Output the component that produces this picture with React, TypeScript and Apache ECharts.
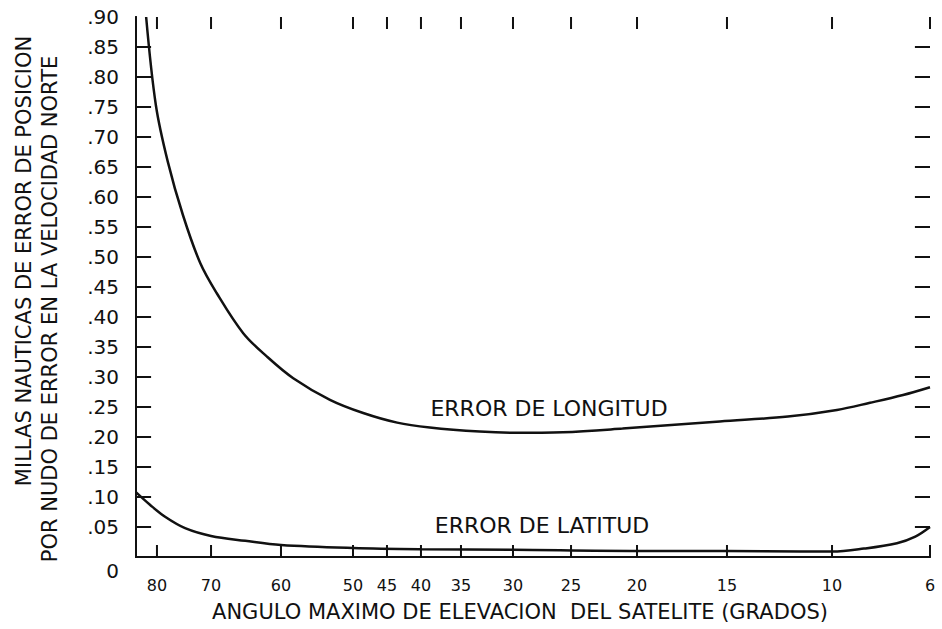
import React, { useEffect, useRef } from "react";
import * as echarts from "echarts";

// X axis: non-uniform scale of maximum elevation angle (degrees)
const xTickAngles = [80, 70, 60, 50, 45, 40, 35, 30, 25, 20, 15, 10, 6];
// position of each tick along the axis (axis units, 0..100)
const xTickUnits = [2.64, 9.45, 18.26, 27.33, 31.61, 35.89, 40.93, 47.48, 54.79, 63.1, 74.43, 87.66, 100];

// Y axis ticks
const yMin = 0;
const yMax = 0.9;
const yStep = 0.05;
const yTickValues = [0.05, 0.1, 0.15, 0.2, 0.25, 0.3, 0.35, 0.4, 0.45, 0.5, 0.55, 0.6, 0.65, 0.7, 0.75, 0.8, 0.85];

// ERROR DE LONGITUD
const longAngles = [82.0, 80.2, 78.0, 75.2, 72.0, 69.2, 65.4, 62.0, 58.3, 53.2, 48.5, 43.5, 38.9, 33.2, 30, 25.7, 21.1, 15.4, 12.1, 9.8, 8.45, 7.1, 6];
const longValues = [0.9, 0.753, 0.659, 0.57, 0.49, 0.44, 0.373, 0.334, 0.298, 0.262, 0.24, 0.224, 0.216, 0.209, 0.207, 0.208, 0.214, 0.226, 0.234, 0.245, 0.257, 0.27, 0.283];

// ERROR DE LATITUD
const latAngles = [83.9, 81.3, 78.5, 74.8, 70, 65.1, 60, 50, 40, 30, 20, 15, 11.5, 10, 8.7, 7.35, 6.6, 6];
const latValues = [0.108, 0.087, 0.067, 0.048, 0.035, 0.027, 0.02, 0.015, 0.013, 0.012, 0.01, 0.01, 0.009, 0.009, 0.014, 0.023, 0.034, 0.05];

const FONT = "DejaVu Sans";
const INK = "#111111";
// tick lengths expressed in axis units (12px vertical, 15px horizontal)
const X_TICK_LEN = 0.02;
const Y_TICK_LEN = 1.9;

function angleToUnit(a: number): number {
  const n = xTickAngles.length;
  if (a >= xTickAngles[0]) {
    const k = (xTickUnits[1] - xTickUnits[0]) / (xTickAngles[0] - xTickAngles[1]);
    return xTickUnits[0] - (a - xTickAngles[0]) * k;
  }
  for (let i = 0; i < n - 1; i++) {
    const a0 = xTickAngles[i];
    const a1 = xTickAngles[i + 1];
    if (a <= a0 && a >= a1) {
      const t = (a0 - a) / (a0 - a1);
      return xTickUnits[i] + t * (xTickUnits[i + 1] - xTickUnits[i]);
    }
  }
  return xTickUnits[n - 1];
}

function unitToLabel(v: number): string {
  for (let i = 0; i < xTickUnits.length; i++) {
    if (Math.abs(xTickUnits[i] - v) < 1e-6) return String(xTickAngles[i]);
  }
  return "";
}

export default function App() {
  const ref = useRef<HTMLDivElement>(null);

  useEffect(() => {
    if (!ref.current) return;
    const chart = echarts.init(ref.current, undefined, { renderer: "svg" });

    const longData = longAngles.map((a, i) => [angleToUnit(a), longValues[i]]);
    const latData = latAngles.map((a, i) => [angleToUnit(a), latValues[i]]);

    // tick marks as broken line segments on all four sides of the frame
    const tickSegs: any[] = [];
    xTickUnits.forEach((u) => {
      tickSegs.push([u, yMin], [u, yMin + X_TICK_LEN], [u, "-"]);
      tickSegs.push([u, yMax], [u, yMax - X_TICK_LEN], [u, "-"]);
    });
    yTickValues.forEach((v) => {
      tickSegs.push([0, v], [Y_TICK_LEN, v], ["-", v]);
      tickSegs.push([100, v], [100 - Y_TICK_LEN, v], ["-", v]);
    });

    chart.setOption({
      animation: false,
      grid: { left: 136, right: 12, top: 17, bottom: 72 },
      xAxis: [
        {
          type: "value",
          position: "bottom",
          min: 0,
          max: 100,
          axisLine: { show: true, lineStyle: { color: INK, width: 2 } },
          axisTick: { show: false },
          axisLabel: {
            show: true,
            customValues: xTickUnits,
            formatter: (v: number) => unitToLabel(v),
            fontFamily: FONT,
            fontSize: 16,
            color: INK,
            margin: 20,
          },
          splitLine: { show: false },
          name: "ANGULO MAXIMO DE ELEVACION  DEL SATELITE (GRADOS)",
          nameLocation: "middle",
          nameGap: 44,
          nameTextStyle: {
            fontFamily: FONT,
            fontSize: 21,
            color: INK,
            padding: [0, 26, 0, 0],
          },
        },
        {
          type: "value",
          position: "top",
          min: 0,
          max: 100,
          axisLine: { show: true, lineStyle: { color: INK, width: 2 } },
          axisTick: { show: false },
          axisLabel: { show: false },
          splitLine: { show: false },
        },
      ],
      yAxis: [
        {
          type: "value",
          position: "left",
          min: yMin,
          max: yMax,
          interval: yStep,
          axisLine: { show: true, lineStyle: { color: INK, width: 2 } },
          axisTick: { show: false },
          axisLabel: {
            show: true,
            fontFamily: FONT,
            fontSize: 20,
            color: INK,
            margin: 17,
            formatter: (v: number) => {
              const n = Math.round(v * 100);
              if (n === 0) return "{z|0}";
              return "." + String(n).padStart(2, "0");
            },
            rich: {
              z: { fontFamily: FONT, fontSize: 20, color: INK, padding: [27, 0, 0, 0] },
            },
          },
          splitLine: { show: false },
        },
        {
          type: "value",
          position: "right",
          min: yMin,
          max: yMax,
          interval: yStep,
          axisLine: { show: true, lineStyle: { color: INK, width: 2 } },
          axisTick: { show: false },
          axisLabel: { show: false },
          splitLine: { show: false },
        },
      ],
      series: [
        {
          name: "ERROR DE LONGITUD",
          type: "line",
          xAxisIndex: 0,
          yAxisIndex: 0,
          data: longData,
          smooth: 0.35,
          showSymbol: false,
          lineStyle: { color: INK, width: 2.5 },
        },
        {
          name: "ERROR DE LATITUD",
          type: "line",
          xAxisIndex: 0,
          yAxisIndex: 0,
          data: latData,
          smooth: 0.35,
          showSymbol: false,
          lineStyle: { color: INK, width: 2.5 },
        },
        {
          name: "ticks",
          type: "line",
          xAxisIndex: 0,
          yAxisIndex: 0,
          data: tickSegs,
          showSymbol: false,
          connectNulls: false,
          clip: false,
          silent: true,
          lineStyle: { color: INK, width: 2 },
        },
      ],
      graphic: [
        {
          type: "text",
          x: 24,
          y: 261,
          rotation: Math.PI / 2,
          style: {
            text: "MILLAS NAUTICAS DE ERROR DE POSICION",
            fontFamily: FONT,
            fontSize: 21,
            fill: INK,
            align: "center",
            verticalAlign: "middle",
          },
        },
        {
          type: "text",
          x: 50,
          y: 309,
          rotation: Math.PI / 2,
          style: {
            text: "POR NUDO DE ERROR EN LA VELOCIDAD NORTE",
            fontFamily: FONT,
            fontSize: 21,
            fill: INK,
            align: "center",
            verticalAlign: "middle",
          },
        },
        {
          type: "text",
          x: 549,
          y: 408,
          style: {
            text: "ERROR DE LONGITUD",
            fontFamily: FONT,
            fontSize: 22,
            fill: INK,
            align: "center",
            verticalAlign: "middle",
          },
        },
        {
          type: "text",
          x: 542,
          y: 525,
          style: {
            text: "ERROR DE LATITUD",
            fontFamily: FONT,
            fontSize: 22,
            fill: INK,
            align: "center",
            verticalAlign: "middle",
          },
        },
      ],
    });

    return () => {
      chart.dispose();
    };
  }, []);

  return (
    <div ref={ref} style={{ position: "fixed", left: 0, top: 0, width: 942, height: 629, background: "#fff" }} />
  );
}
